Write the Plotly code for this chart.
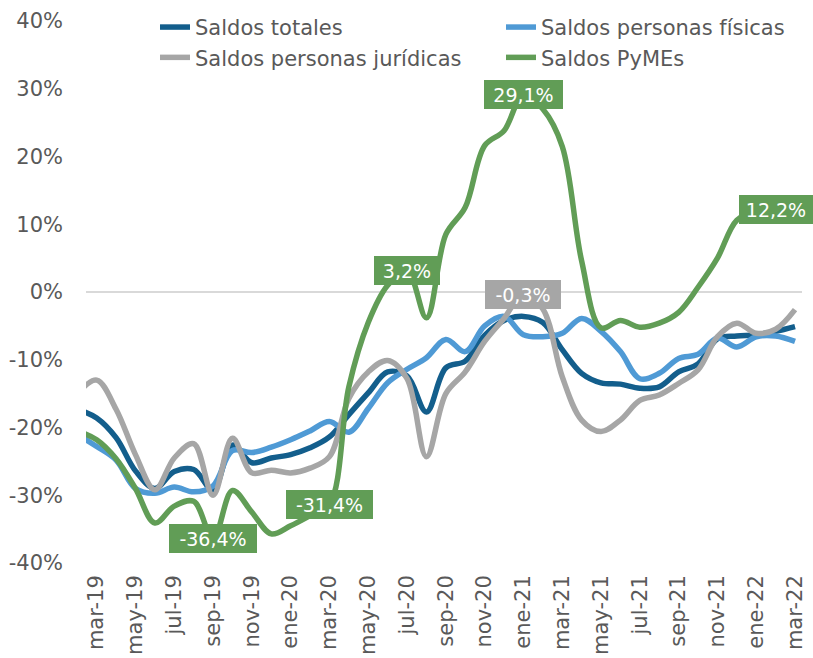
import plotly.graph_objects as go

months = ["feb-19", "mar-19", "abr-19", "may-19", "jun-19", "jul-19", "ago-19", "sep-19",
          "oct-19", "nov-19", "dic-19", "ene-20", "feb-20", "mar-20", "abr-20", "may-20",
          "jun-20", "jul-20", "ago-20", "sep-20", "oct-20", "nov-20", "dic-20", "ene-21",
          "feb-21", "mar-21", "abr-21", "may-21", "jun-21", "jul-21", "ago-21", "sep-21",
          "oct-21", "nov-21", "dic-21", "ene-22", "feb-22", "mar-22"]

# values in %
saldos_totales = [-17.3, -18.6, -21.5, -26.4, -29.0, -26.5, -26.2, -29.2,
                  -22.6, -25.2, -24.5, -24.0, -23.0, -21.4, -18.1, -14.9,
                  -11.8, -12.4, -17.7, -11.2, -10.2, -6.4, -4.2, -3.6,
                  -4.5, -8.5, -12.0, -13.4, -13.6, -14.2, -14.0, -11.8,
                  -10.6, -6.9, -6.5, -6.3, -5.8, -5.1]
saldos_fisicas = [-21.0, -22.8, -24.8, -29.0, -29.7, -28.8, -29.5, -28.6,
                  -23.4, -23.7, -22.9, -21.8, -20.5, -19.1, -20.7, -17.2,
                  -13.4, -11.4, -9.7, -7.0, -8.8, -5.0, -3.6, -6.3,
                  -6.6, -6.1, -3.9, -5.8, -8.8, -12.8, -12.0, -9.8,
                  -9.2, -6.8, -8.1, -6.6, -6.5, -7.3]
saldos_juridicas = [-15.0, -13.0, -17.3, -24.0, -29.2, -24.5, -22.4, -30.0,
                    -21.6, -26.7, -26.3, -26.7, -26.0, -24.3, -15.7, -11.8,
                    -10.1, -12.8, -24.3, -15.0, -11.8, -7.3, -3.9, -0.3,
                    -2.5, -12.5, -18.9, -20.6, -18.9, -16.0, -15.2, -13.5,
                    -11.5, -6.6, -4.6, -6.1, -5.5, -2.6]
saldos_pymes = [-20.5, -21.8, -24.6, -29.0, -34.1, -31.6, -30.9, -36.4,
                -29.3, -32.5, -35.7, -34.5, -33.0, -31.4, -14.0, -4.5,
                1.0, 3.2, -3.8, 8.5, 12.5, 21.6, 23.8, 29.1,
                27.0, 21.5, 4.6, -5.3, -4.2, -5.2, -4.6, -3.0,
                0.7, 5.0, 10.6, 11.9, 12.2, None]

series_names = ["Saldos totales", "Saldos personas físicas",
                "Saldos personas jurídicas", "Saldos PyMEs"]
series_values = [saldos_totales, saldos_fisicas, saldos_juridicas, saldos_pymes]
series_colors = ["#135E8C", "#4F9AD5", "#A6A6A6", "#619D56"]
series_legend = ["legend", "legend2", "legend", "legend2"]

# data labels: (series index, month)
label_series = [3, 3, 3, 3, 2, 3]
label_months = ["sep-19", "mar-20", "jul-20", "ene-21", "ene-21", "feb-22"]
label_widths = [82, 81, 60, 73, 70, 68]

tick_months = months[1::2]
y_ticks = [-40, -30, -20, -10, 0, 10, 20, 30, 40]
y_ticktext = [f"{v}%" for v in y_ticks]

FONT = "DejaVu Sans, Verdana, sans-serif"
TXT = "#595959"

fig = go.Figure()
for name, vals, col, lg in zip(series_names, series_values, series_colors, series_legend):
    fig.add_trace(go.Scatter(
        x=months, y=vals, name=name, mode="lines", legend=lg,
        line=dict(color=col, width=5.5, shape="spline", smoothing=1.0),
        connectgaps=False,
    ))

for si, m, w in zip(label_series, label_months, label_widths):
    v = series_values[si][months.index(m)]
    txt = f"{v:.1f}%".replace(".", ",")
    fig.add_annotation(
        x=m, y=v, text=txt, showarrow=False,
        xanchor="center", yanchor="middle",
        font=dict(family=FONT, size=19, color="white"),
        bgcolor=series_colors[si], borderwidth=0, borderpad=3,
        width=w, height=23, align="center",
    )

legend_common = dict(
    orientation="v", xanchor="left", yanchor="top", y=1.026,
    font=dict(family=FONT, size=21, color=TXT),
    bgcolor="rgba(0,0,0,0)", borderwidth=0, tracegroupgap=0,
)

fig.update_layout(
    width=813, height=658,
    margin=dict(l=86, r=11, t=21, b=95, autoexpand=False),
    paper_bgcolor="white", plot_bgcolor="white",
    font=dict(family=FONT, size=21, color=TXT),
    showlegend=True,
    legend=dict(x=0.0964, **legend_common),
    legend2=dict(x=0.5796, **legend_common),
    xaxis=dict(
        type="category", categoryorder="array", categoryarray=months,
        range=[0.45, 37.36], tickmode="array", tickvals=tick_months,
        ticktext=tick_months, tickangle=-90, showgrid=False, showline=False,
        ticks="", zeroline=False, ticklabelstandoff=7, automargin=False,
        tickfont=dict(family=FONT, size=21, color=TXT),
    ),
    yaxis=dict(
        range=[-40, 40], tickmode="array", tickvals=y_ticks, ticktext=y_ticktext,
        showgrid=False, showline=False, ticks="", zeroline=True,
        zerolinecolor="#D9D9D9", zerolinewidth=2, ticklabelstandoff=22,
        automargin=False,
        tickfont=dict(family=FONT, size=21, color=TXT),
    ),
)

fig.write_html("out.html")
